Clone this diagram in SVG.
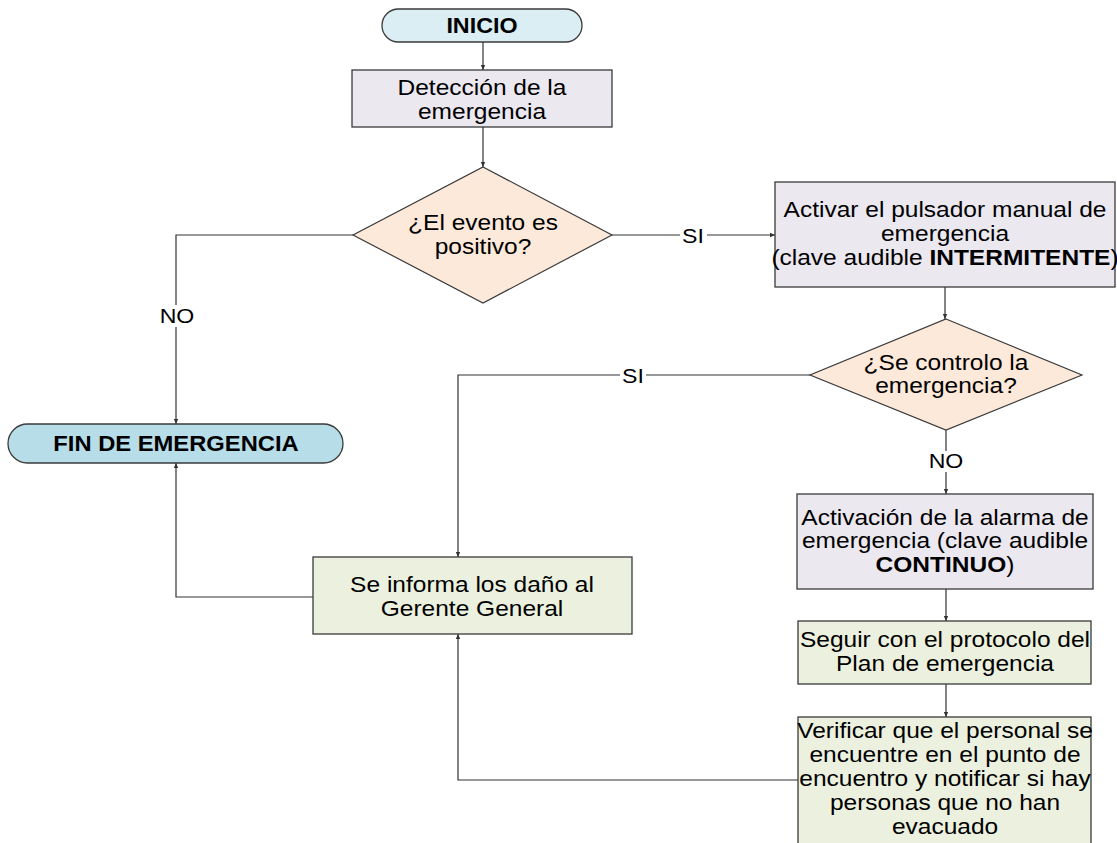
<svg xmlns="http://www.w3.org/2000/svg" width="1117" height="843" viewBox="0 0 1117 843">
<style>
text{font-family:"Liberation Sans",Arial,sans-serif;font-size:21.5px;fill:#000;text-anchor:middle}
.b{font-weight:bold}
.t{font-size:22px;font-weight:bold}
.proc{fill:#ebe8f0;stroke:#3a3a3a;stroke-width:1.3}
.grn{fill:#ebf1de;stroke:#3a3a3a;stroke-width:1.3}
.dec{fill:#fde9d9;stroke:#3a3a3a;stroke-width:1.2}
.c{fill:none;stroke:#333;stroke-width:1.2}
.lbl{font-size:21px}
</style>
<defs>
<marker id="ar" markerWidth="6" markerHeight="6" refX="5" refY="3" orient="auto" markerUnits="userSpaceOnUse">
<path d="M0,0.8 L5,3 L0,5.2 Z" fill="#333"/>
</marker>
</defs>
<g id="connectors">
<path class="c" d="M483,42 V70" marker-end="url(#ar)"/>
<path class="c" d="M483,127 V167" marker-end="url(#ar)"/>
<path class="c" d="M612,235 H680"/>
<path class="c" d="M707,235 H775" marker-end="url(#ar)"/>
<text class="lbl" transform="translate(693,243) scale(1.1,1)">SI</text>
<path class="c" d="M353,235 H176 V305"/>
<path class="c" d="M176,327 V424" marker-end="url(#ar)"/>
<text class="lbl" transform="translate(177,323) scale(1.1,1)">NO</text>
<path class="c" d="M945,287 V319" marker-end="url(#ar)"/>
<path class="c" d="M810,375 H646"/>
<path class="c" d="M620,375 H458 V557" marker-end="url(#ar)"/>
<text class="lbl" transform="translate(633,383) scale(1.1,1)">SI</text>
<path class="c" d="M946,430 V451"/>
<path class="c" d="M946,472 V494" marker-end="url(#ar)"/>
<text class="lbl" transform="translate(946,468) scale(1.1,1)">NO</text>
<path class="c" d="M946,589 V621" marker-end="url(#ar)"/>
<path class="c" d="M946,684 V717" marker-end="url(#ar)"/>
<path class="c" d="M798,780 H458 V634" marker-end="url(#ar)"/>
<path class="c" d="M313,597 H176 V463" marker-end="url(#ar)"/>
</g>
<g id="inicio">
<rect x="382" y="9" width="200" height="33" rx="16.5" fill="#daeef3" stroke="#3a3a3a" stroke-width="1.3"/>
<text class="t" transform="translate(482,33) scale(1.06,1)">INICIO</text>
</g>
<g id="deteccion">
<rect class="proc" x="352" y="70" width="260" height="57"/>
<g transform="translate(482,0) scale(1.14,1)">
<text x="0" y="95">Detección de la</text>
<text x="0" y="119">emergencia</text>
</g>
</g>
<g id="evento">
<polygon class="dec" points="483,167 612,235 483,303 353,235"/>
<g transform="translate(483,0) scale(1.14,1)">
<text x="0" y="230">¿El evento es</text>
<text x="0" y="254">positivo?</text>
</g>
</g>
<g id="activar">
<rect class="proc" x="775" y="182" width="340" height="105"/>
<g transform="translate(945,0) scale(1.14,1)">
<text x="0" y="217">Activar el pulsador manual de</text>
<text x="0" y="241">emergencia</text>
<text x="0" y="265">(clave audible <tspan class="b">INTERMITENTE</tspan>)</text>
</g>
</g>
<g id="controlo">
<polygon class="dec" points="946,319 1082,375 946,430 810,375"/>
<g transform="translate(946,0) scale(1.14,1)">
<text x="0" y="370">¿Se controlo la</text>
<text x="0" y="393">emergencia?</text>
</g>
</g>
<g id="fin">
<rect x="8" y="424" width="335" height="39" rx="19.5" fill="#b7dde8" stroke="#3a3a3a" stroke-width="1.3"/>
<text class="t" transform="translate(176,451) scale(1.08,1)">FIN DE EMERGENCIA</text>
</g>
<g id="informa">
<rect class="grn" x="313" y="557" width="319" height="77"/>
<g transform="translate(472,0) scale(1.14,1)">
<text x="0" y="592">Se informa los daño al</text>
<text x="0" y="616">Gerente General</text>
</g>
</g>
<g id="alarma">
<rect class="proc" x="797" y="494" width="296" height="95"/>
<g transform="translate(945,0) scale(1.14,1)">
<text x="0" y="525">Activación de la alarma de</text>
<text x="0" y="548">emergencia (clave audible</text>
<text x="0" y="572"><tspan class="b">CONTINUO</tspan>)</text>
</g>
</g>
<g id="seguir">
<rect class="grn" x="798" y="621" width="293" height="63"/>
<g transform="translate(945,0) scale(1.14,1)">
<text x="0" y="647">Seguir con el protocolo del</text>
<text x="0" y="671">Plan de emergencia</text>
</g>
</g>
<g id="verificar">
<rect class="grn" x="798" y="717" width="293" height="135"/>
<g transform="translate(945,0) scale(1.14,1)">
<text x="0" y="738">Verificar que el personal se</text>
<text x="0" y="762">encuentre en el punto de</text>
<text x="0" y="786">encuentro y notificar si hay</text>
<text x="0" y="810">personas que no han</text>
<text x="0" y="834">evacuado</text>
</g>
</g>
</svg>
